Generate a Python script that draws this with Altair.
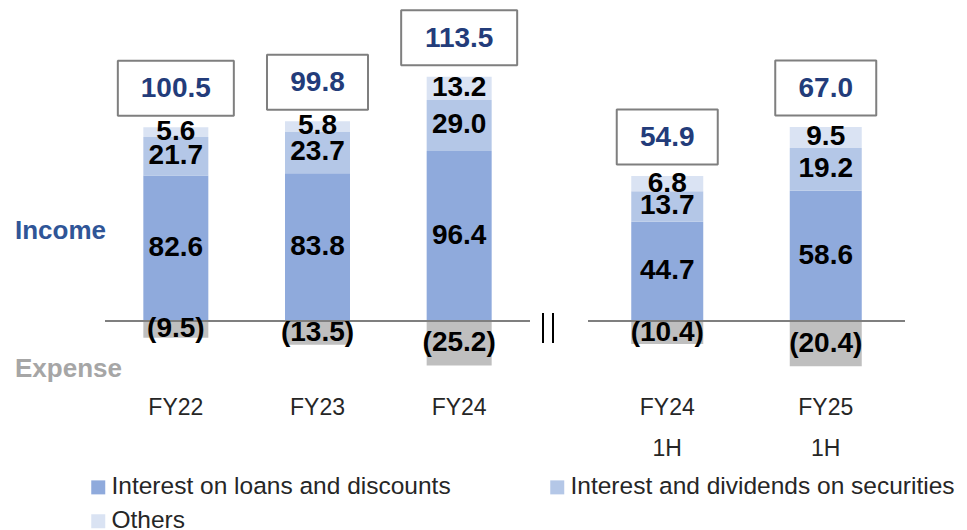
import altair as alt
import pandas as pd

# ---------------- data ----------------
cat_keys = ["FY22", "FY23", "FY24", "FY24_1H", "FY25_1H"]
cat_labels = ["FY22", "FY23", "FY24", "FY24\n1H", "FY25\n1H"]
cat_panel = ["annual", "annual", "annual", "half", "half"]

loans = [82.6, 83.8, 96.4, 44.7, 58.6]
securities = [21.7, 23.7, 29.0, 13.7, 19.2]
others = [5.6, 5.8, 13.2, 6.8, 9.5]
expense = [9.5, 13.5, 25.2, 10.4, 20.4]
net_income = ["100.5", "99.8", "113.5", "54.9", "67.0"]

series_names = ["Interest on loans and discounts",
                "Interest and dividends on securities",
                "Others"]
series_colors = ["#8FAADC", "#B4C7E7", "#DAE3F3"]

FONT = "Liberation Sans"

# ---------------- tables built from the arrays ----------------
seg_rows = []
for i, k in enumerate(cat_keys):
    for j, vals in enumerate([loans, securities, others]):
        seg_rows.append({"cat": k, "panel": cat_panel[i], "series": series_names[j],
                         "ord": j, "value": vals[i], "label": f"{vals[i]:.1f}"})
seg_df = pd.DataFrame(seg_rows)

exp_df = pd.DataFrame({"cat": cat_keys, "panel": cat_panel,
                       "neg": [-v for v in expense],
                       "label": [f"({v:.1f})" for v in expense]})

BOX_SCALE = 60.0  # half side of the symbol (size = 120^2)


def box_path(label):
    w = 116 if len(label) >= 5 else 101
    hx = (w / 2) / BOX_SCALE
    hy = 27.5 / BOX_SCALE
    return f"M{-hx:.4f},{-hy:.4f}L{hx:.4f},{-hy:.4f}L{hx:.4f},{hy:.4f}L{-hx:.4f},{hy:.4f}Z"


box_df = pd.DataFrame({"cat": cat_keys, "panel": cat_panel,
                       "top": [a + b + c for a, b, c in zip(loans, securities, others)],
                       "net": net_income,
                       "path": [box_path(n) for n in net_income]})

lab_df = pd.DataFrame({"cat": cat_keys, "panel": cat_panel, "label": cat_labels})

legend = alt.Legend(title=None, orient="none", legendX=78, legendY=467,
                    columns=2, direction="horizontal", padding=0, offset=0,
                    symbolType="square", symbolSize=196,
                    symbolStrokeWidth=0, labelFontSize=24.5, labelFont=FONT,
                    labelColor="#262626", labelOffset=1, columnPadding=94,
                    rowPadding=9, labelLimit=1000)

BOX_OFF = -39


def make_panel(key, width, x_range, y_domain, bar_w, extras):
    cats = [c for c, p in zip(cat_keys, cat_panel) if p == key]
    xs = alt.Scale(domain=cats, range=x_range, paddingInner=0, paddingOuter=0)
    x = alt.X("cat:N", scale=xs, axis=None)
    ys = alt.Scale(domain=y_domain, nice=False, zero=False)

    seg = seg_df[seg_df.panel == key]
    stacked = alt.Chart(seg).transform_stack(
        stack="value", groupby=["cat"], as_=["y0", "y1"],
        sort=[alt.SortField("ord", order="ascending")]
    ).transform_calculate(mid="(datum.y0 + datum.y1) / 2")

    bars = stacked.mark_bar(width=bar_w).encode(
        x=x,
        y=alt.Y("y0:Q", scale=ys, axis=None),
        y2="y1:Q",
        color=alt.Color("series:N",
                        scale=alt.Scale(domain=series_names, range=series_colors),
                        legend=legend),
    )
    seg_text = stacked.mark_text(font=FONT, fontSize=28, fontWeight="bold",
                                 color="#000000", baseline="middle").encode(
        x=x, y=alt.Y("mid:Q", scale=ys), text="label:N")

    ex = alt.Chart(exp_df[exp_df.panel == key]).transform_calculate(
        mid="datum.neg / 2")
    ex_bars = ex.mark_bar(width=bar_w, color="#BFBFBF").encode(
        x=x, y=alt.Y("neg:Q", scale=ys), y2=alt.datum(0))
    ex_text = ex.mark_text(font=FONT, fontSize=28, fontWeight="bold",
                           color="#000000", baseline="middle").encode(
        x=x, y=alt.Y("mid:Q", scale=ys), text="label:N")

    base_rule = alt.Chart(pd.DataFrame({"z": [0]})).mark_rule(
        color="#7F7F7F", strokeWidth=2).encode(
        x=alt.value(x_range[0]), x2=alt.value(x_range[1]),
        y=alt.Y("z:Q", scale=ys))

    bx = alt.Chart(box_df[box_df.panel == key])
    boxes = bx.mark_point(filled=True, color="white", stroke="#7F7F7F",
                          strokeWidth=2, strokeJoin="bevel", opacity=1,
                          yOffset=BOX_OFF).encode(
        x=x, y=alt.Y("top:Q", scale=ys),
        shape=alt.Shape("path:N", scale=None),
        size=alt.value(BOX_SCALE * BOX_SCALE * 4))
    box_text = bx.mark_text(font=FONT, fontSize=28, fontWeight="bold",
                            color="#233C7A", baseline="middle", yOffset=BOX_OFF + 1).encode(
        x=x, y=alt.Y("top:Q", scale=ys), text="net:N")

    cat_text = alt.Chart(lab_df[lab_df.panel == key]).mark_text(
        font=FONT, fontSize=23, color="#262626", baseline="alphabetic",
        lineBreak="\n", lineHeight=41).encode(
        x=x, y=alt.value(407), text="label:N")

    layers = [bars, ex_bars, base_rule, seg_text, ex_text, boxes, box_text, cat_text] + extras
    return alt.layer(*layers).properties(width=width, height=372)


side = [
    alt.Chart(pd.DataFrame({"t": ["Income"]})).mark_text(
        font=FONT, fontSize=26, fontWeight="bold", color="#2F5597",
        align="left", baseline="middle").encode(
        x=alt.value(7), y=alt.value(223), text="t:N"),
    alt.Chart(pd.DataFrame({"t": ["Expense"]})).mark_text(
        font=FONT, fontSize=26, fontWeight="bold", color="#A6A6A6",
        align="left", baseline="middle").encode(
        x=alt.value(7), y=alt.value(361), text="t:N"),
    alt.Chart(pd.DataFrame({"t": ["a"]})).mark_rule(color="#000000", strokeWidth=2).encode(
        x=alt.value(535), y=alt.value(305), y2=alt.value(335)),
    alt.Chart(pd.DataFrame({"t": ["b"]})).mark_rule(color="#000000", strokeWidth=2).encode(
        x=alt.value(545), y=alt.value(305), y2=alt.value(335)),
]

left = make_panel("annual", 522, [97, 522], [-59 / 1.763, 313 / 1.763], 65, side)
right = make_panel("half", 317, [0, 317], [-59 / 2.223, 313 / 2.223], 72, [])

chart = alt.hconcat(left, right, spacing=58, bounds="flush").resolve_scale(
    y="independent", x="independent"
).properties(padding=0).configure(font=FONT).configure_view(
    stroke="transparent", strokeWidth=0
)

chart.save("out.html", embed_options={"renderer": "svg", "actions": False})
